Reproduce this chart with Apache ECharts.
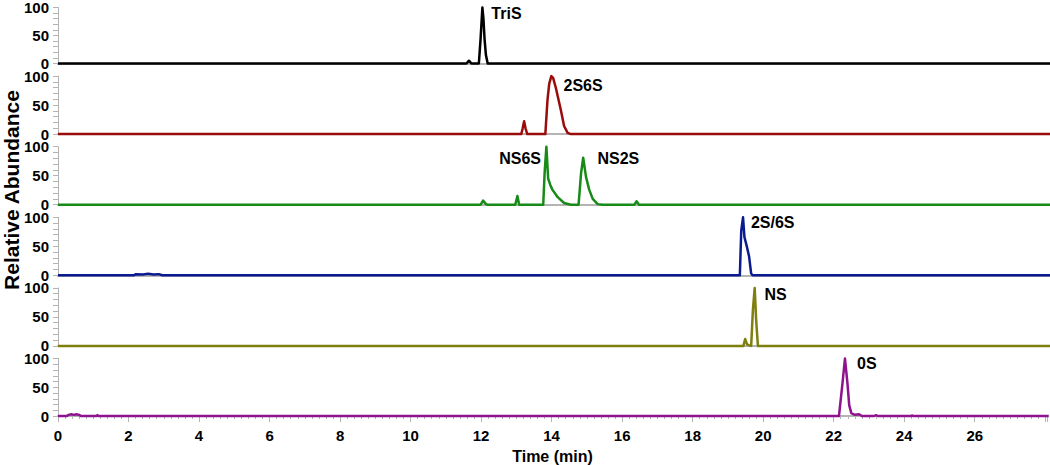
<!DOCTYPE html>
<html>
<head>
<meta charset="utf-8">
<style>
  html, body { margin: 0; padding: 0; background: #fff; }
  #myChart { width: 1050px; height: 465px; }
</style>
<script src="https://cdn.jsdelivr.net/npm/echarts@6/dist/echarts.min.js"></script>
</head>
<body>
<div id="myChart"></div>
<script>
// time axis ticks (min)
const xTicks = [0, 2, 4, 6, 8, 10, 12, 14, 16, 18, 20, 22, 24, 26]
const yTicks = [0, 50, 100]

// traces: [time, relative abundance]
const triS = [[0, 0], [11.55, 0], [11.62, 5], [11.69, 0], [11.9, 0], [11.95, 45], [12.0, 100], [12.03, 80], [12.06, 45], [12.1, 15], [12.15, 0], [28.1, 0]]
const s2s6 = [[0, 0], [13.1, 0], [13.14, 10], [13.18, 22], [13.22, 10], [13.27, 0], [13.78, 0], [13.84, 58], [13.89, 87], [13.95, 100], [14.0, 97], [14.08, 79], [14.15, 60], [14.22, 41], [14.31, 14], [14.41, 2], [14.5, 0], [28.1, 0]]
const ns6sNs2s = [[0, 0], [11.95, 0], [12.02, 7], [12.1, 1], [12.15, 0], [12.93, 0], [12.99, 15], [13.04, 0], [13.72, 0], [13.76, 55], [13.81, 100], [13.86, 45], [13.92, 34], [13.98, 26], [14.13, 13], [14.31, 3], [14.5, 0], [14.72, 0], [14.79, 54], [14.85, 81], [14.93, 48], [15.02, 26], [15.12, 10], [15.26, 1], [15.4, 0], [16.3, 0], [16.36, 6], [16.43, 0], [28.1, 0]]
const s2s6sMix = [[0, 0], [2.15, 0], [2.2, 2], [2.4, 1.5], [2.55, 2.5], [2.7, 1.5], [2.85, 2], [2.95, 0], [19.28, 0], [19.32, 77], [19.37, 100], [19.41, 66], [19.48, 49], [19.54, 33], [19.6, 3], [19.64, 0], [28.1, 0]]
const nsTrace = [[0, 0], [19.38, 0], [19.43, 12], [19.48, 3], [19.53, 1], [19.6, 0], [19.65, 63], [19.7, 100], [19.74, 46], [19.79, 0], [28.1, 0]]
const s0Trace = [[0, 0], [0.25, 0], [0.3, 2], [0.38, 3], [0.45, 2], [0.52, 3], [0.6, 2], [0.65, 0], [1.1, 0], [1.12, 1.5], [1.15, 0], [22.15, 0], [22.25, 57], [22.32, 100], [22.39, 57], [22.44, 19], [22.5, 5], [22.6, 2], [22.72, 3], [22.8, 0], [23.15, 0], [23.2, 1.5], [23.25, 0], [24.2, 0], [24.22, 1], [24.25, 0], [28.1, 0]]

// peak labels: panel index, name, [time, abundance] of label left edge
const peakPanels = [0, 1, 2, 2, 3, 4, 5]
const peakNames = ['TriS', '2S6S', 'NS6S', 'NS2S', '2S/6S', 'NS', '0S']
const peakSpots = [[12.24, 90], [14.28, 84], [12.46, 80], [15.24, 80], [19.58, 91], [19.96, 89], [22.65, 92]]

const traces = [triS, s2s6, ns6sNs2s, s2s6sMix, nsTrace, s0Trace]
const colors = ['#000000', '#9a0b0b', '#178a17', '#0b1a8f', '#7f7f0f', '#8f138f']

const axisGray = '#b4b4b4'
const panelTop = 5.5
const panelStep = 70.6
const panelH = 58

// svg renderer: canvas drew the flat baselines a little off after the peaks
let myChart = echarts.init(document.getElementById('myChart'), null, { renderer: 'svg' })

let grid = [], xAxis = [], yAxis = [], series = []
traces.forEach((tr, i) => {
  const last = i === traces.length - 1
  grid.push({ left: 58, right: 0, top: panelTop + panelStep * i, height: panelH })
  xAxis.push({
    gridIndex: i,
    type: 'value',
    min: 0,
    max: 28.05,
    interval: 2,
    axisLine: { show: true, onZero: false, lineStyle: { color: axisGray, width: 2 } },
    axisTick: { show: last, length: 6, lineStyle: { color: axisGray } },
    minorTick: { show: last, splitNumber: 10, length: 3, lineStyle: { color: axisGray } },
    axisLabel: {
      show: last,
      margin: 12,
      color: '#000',
      fontFamily: 'Liberation Sans, Arial',
      fontWeight: 'bold',
      fontSize: 15,
      formatter: v => (xTicks.indexOf(v) >= 0 ? String(v) : ''),
    },
    splitLine: { show: false },
    name: last ? 'Time (min)' : '',
    nameLocation: 'middle',
    nameGap: 32,
    nameTextStyle: { color: '#000', fontFamily: 'Liberation Sans, Arial', fontWeight: 'bold', fontSize: 16 },
  })
  yAxis.push({
    gridIndex: i,
    type: 'value',
    min: yTicks[0],
    max: yTicks[yTicks.length - 1],
    interval: 50,
    axisLine: { show: true, lineStyle: { color: axisGray, width: 1 } },
    axisTick: { show: true, length: 5, lineStyle: { color: axisGray } },
    minorTick: { show: true, splitNumber: 5, length: 5, lineStyle: { color: axisGray } },
    axisLabel: {
      margin: 9,
      color: '#000',
      fontFamily: 'Liberation Sans, Arial',
      fontWeight: 'bold',
      fontSize: 15,
    },
    splitLine: { show: false },
  })
  // labels that belong to this panel
  let marks = []
  peakPanels.forEach((p, k) => {
    if (p === i) marks.push({ name: peakNames[k], coord: peakSpots[k] })
  })
  series.push({
    type: 'line',
    xAxisIndex: i,
    yAxisIndex: i,
    data: tr,
    showSymbol: false,
    clip: false,
    lineStyle: { color: colors[i], width: 2.5, join: 'round' },
    itemStyle: { color: colors[i] },
    markPoint: {
      symbol: 'circle',
      symbolSize: 1,
      itemStyle: { color: 'rgba(0,0,0,0)' },
      label: {
        show: true,
        position: 'right',
        distance: 0,
        formatter: '{b}',
        color: '#000',
        fontFamily: 'Liberation Sans, Arial',
        fontWeight: 'bold',
        fontSize: 16,
      },
      data: marks,
    },
  })
})

myChart.setOption({
  animation: false,
  backgroundColor: '#fff',
  grid: grid,
  xAxis: xAxis,
  yAxis: yAxis,
  series: series,
  graphic: [
    {
      type: 'text',
      x: 11,
      y: 190,
      rotation: Math.PI / 2,
      style: {
        text: 'Relative Abundance',
        x: 0,
        y: 0,
        align: 'center',
        verticalAlign: 'middle',
        fill: '#000',
        font: 'bold 21px "Liberation Sans", Arial',
      },
    },
  ],
})
</script>
</body>
</html>
